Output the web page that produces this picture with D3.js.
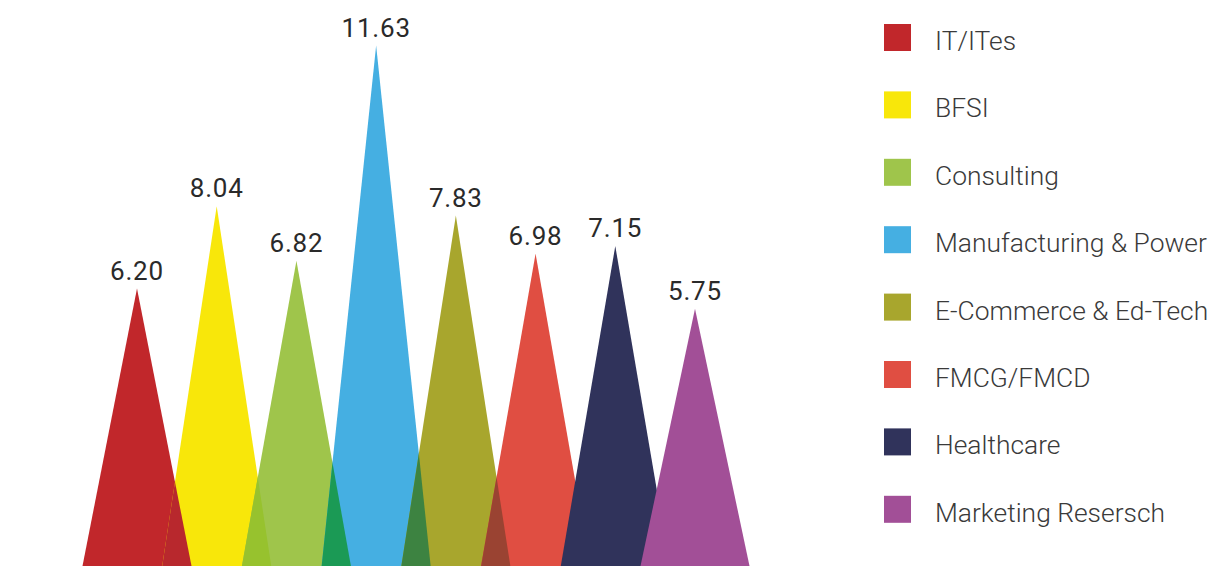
<!DOCTYPE html>
<html>
<head>
<meta charset="utf-8">
<script src="https://cdn.jsdelivr.net/npm/d3@7"></script>
<style>
  body { margin: 0; background: #fff; }
  svg { display: block; font-family: Roboto, "Noto Sans", sans-serif; }
</style>
</head>
<body>
<div id="chart"></div>
<script>
// data
const categories = ["IT/ITes", "BFSI", "Consulting", "Manufacturing & Power",
    "E-Commerce & Ed-Tech", "FMCG/FMCD", "Healthcare", "Marketing Resersch"];
const values = [6.20, 8.04, 6.82, 11.63, 7.83, 6.98, 7.15, 5.75];
const colors = ["#c1272b", "#f8e70a", "#9fc54b", "#45afe2", "#a8a62d", "#e04e42", "#30335b", "#a24f97"];
// colour where a spike overlaps the next one (null = next one just covers it)
const overlapColors = ["#b8282d", "#97c22e", "#1b9a55", "#3d8341", "#9a4332", null, null];

const width = 1227, height = 566;

const svg = d3.select("#chart")
    .append("svg")
    .attr("width", width)
    .attr("height", height);

// scales
const x = d3.scalePoint()
    .domain(categories)
    .range([137, 695]);

const y = d3.scaleLinear()
    .domain([0, 12])
    .range([566, 29]);

const halfBase = 54.5;

function spike(d, i) {
    const cx = x(categories[i]);
    return `M${cx - halfBase},${y(0)}L${cx},${y(d)}L${cx + halfBase},${y(0)}Z`;
}

// clip paths, one per spike
const defs = svg.append("defs");
defs.selectAll("clipPath")
    .data(values)
    .join("clipPath")
    .attr("id", (d, i) => "spike" + i)
    .append("path")
    .attr("d", spike);

const plot = svg.append("g");

values.forEach(function (v, i) {
    plot.append("path")
        .attr("d", spike(v, i))
        .attr("fill", colors[i]);
    // overlap with previous spike
    if (i > 0 && overlapColors[i - 1]) {
        plot.append("path")
            .attr("d", spike(v, i))
            .attr("clip-path", `url(#spike${i - 1})`)
            .attr("fill", overlapColors[i - 1]);
    }
});

// value labels
svg.append("g")
    .selectAll("text")
    .data(values)
    .join("text")
    .attr("x", (d, i) => x(categories[i]))
    .attr("y", d => y(d) - 9)
    .attr("text-anchor", "middle")
    .attr("font-size", 26)
    .attr("letter-spacing", 0.8)
    .attr("fill", "#2a2a2a")
    .text(d => d.toFixed(2));

// legend
const legend = svg.append("g")
    .attr("transform", "translate(884, 24)");

const row = legend.selectAll("g")
    .data(categories)
    .join("g")
    .attr("transform", (d, i) => `translate(0, ${i * 67.4})`);

row.append("rect")
    .attr("width", 27)
    .attr("height", 27)
    .attr("fill", (d, i) => colors[i]);

row.append("text")
    .attr("x", 51)
    .attr("y", 26)
    .attr("font-size", 26.4)
    .attr("font-weight", 300)
    .attr("fill", "#3a3a3a")
    .text(d => d);
</script>
</body>
</html>
